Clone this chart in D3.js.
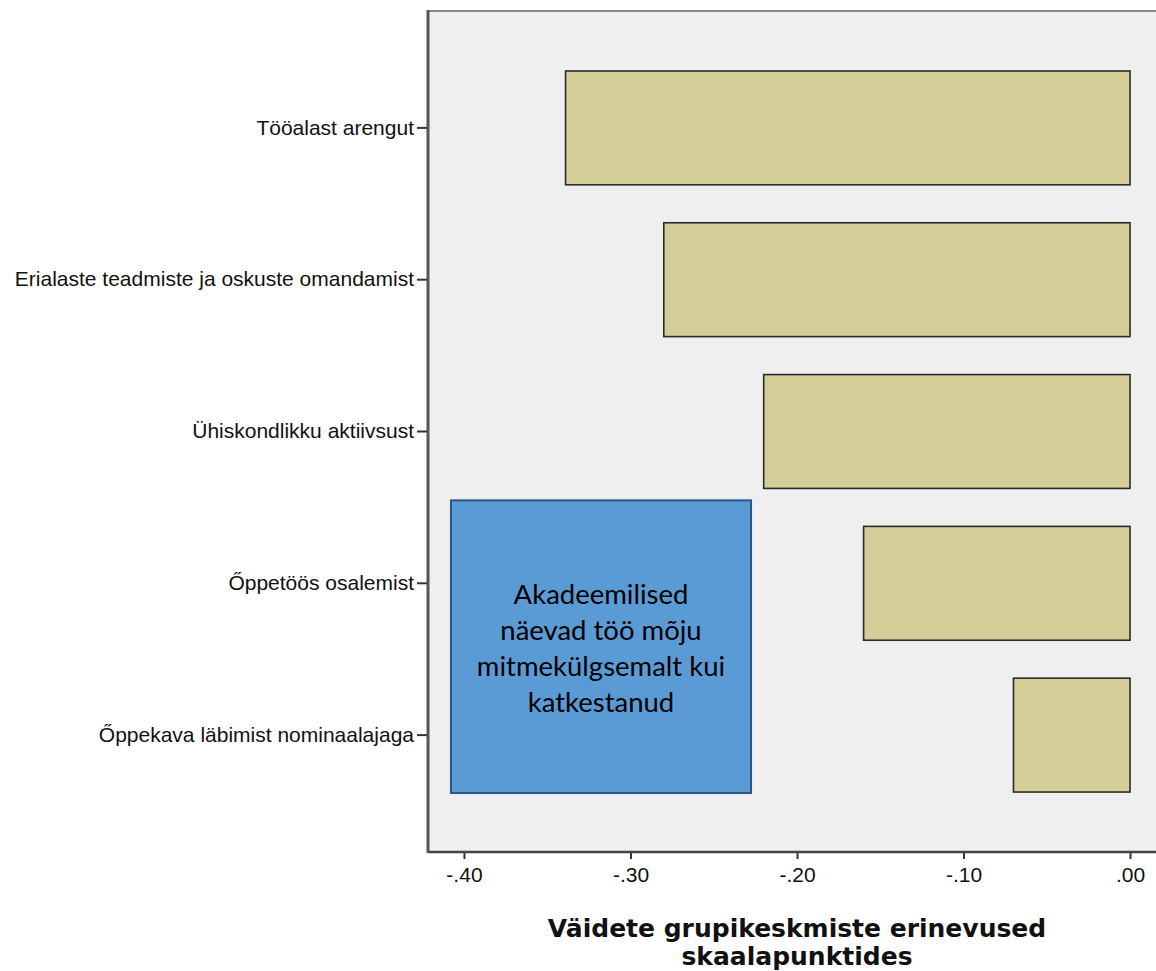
<!DOCTYPE html>
<html>
<head>
<meta charset="utf-8">
<script src="https://cdn.jsdelivr.net/npm/d3@7"></script>
<style>
  html, body { margin: 0; padding: 0; background: #ffffff; }
  svg { display: block; }
</style>
</head>
<body>
<svg id="chart" width="1156" height="971"></svg>
<script>
// ---- data ----
const categories = [
  "Tööalast arengut",
  "Erialaste teadmiste ja oskuste omandamist",
  "Ühiskondlikku aktiivsust",
  "Őppetöös osalemist",
  "Őppekava läbimist nominaalajaga"
];
const values = [-0.339, -0.280, -0.220, -0.160, -0.070];
const tickValues = [-0.4, -0.3, -0.2, -0.1, 0];
const tickLabels = ["-.40", "-.30", "-.20", "-.10", ".00"];
const xDomain = [-0.4216, 0.0216];
const axisTitleLines = ["Väidete grupikeskmiste erinevused", "skaalapunktides"];
const noteLines = ["Akadeemilised", "näevad töö mõju", "mitmekülgsemalt kui", "katkestanud"];
const noteRange = [-0.4078, -0.2276]; // x extent of annotation box in data units

// ---- layout ----
const svg = d3.select("#chart");
const plot = { left: 428, right: 1166, top: 11, bottom: 852 };

const x = d3.scaleLinear().domain(xDomain).range([plot.left, plot.right]);
const y = d3.scaleBand().domain(categories)
  .range([plot.top, plot.bottom])
  .paddingInner(0.25).paddingOuter(0.395);

// plot background
svg.append("rect")
  .attr("x", plot.left).attr("y", plot.top)
  .attr("width", plot.right - plot.left).attr("height", plot.bottom - plot.top)
  .attr("fill", "#efefef");

// bars
svg.append("g").selectAll("rect").data(categories).join("rect")
  .attr("x", (d, i) => x(values[i]))
  .attr("y", d => y(d))
  .attr("width", (d, i) => x(0) - x(values[i]))
  .attr("height", y.bandwidth())
  .attr("fill", "#d3ce97")
  .attr("stroke", "#2b2b2b")
  .attr("stroke-width", 1.6);

// annotation box
const nTop = y(categories[3]) - 26;
const nBottom = y(categories[4]) + y.bandwidth() + 1;
svg.append("rect")
  .attr("x", x(noteRange[0])).attr("y", nTop)
  .attr("width", x(noteRange[1]) - x(noteRange[0]))
  .attr("height", nBottom - nTop)
  .attr("fill", "#5b9bd5")
  .attr("stroke", "#2c5683")
  .attr("stroke-width", 2);
const nCx = (x(noteRange[0]) + x(noteRange[1])) / 2;
const nCy = (nTop + nBottom) / 2;
svg.append("text")
  .attr("text-anchor", "middle")
  .attr("font-family", "Lato, 'Open Sans', sans-serif")
  .attr("font-size", 27.5)
  .attr("fill", "#000")
  .selectAll("tspan").data(noteLines).join("tspan")
  .attr("x", nCx)
  .attr("y", (d, i) => nCy + (i - (noteLines.length - 1) / 2) * 36 + 11)
  .text(d => d);

// x axis
const xAxis = d3.axisBottom(x).tickValues(tickValues)
  .tickFormat((d, i) => tickLabels[i]).tickSize(7).tickPadding(8);
const gx = svg.append("g").attr("transform", `translate(0,${plot.bottom})`).call(xAxis);
gx.select(".domain").remove();
gx.selectAll(".tick line").attr("stroke", "#333").attr("stroke-width", 2);
gx.selectAll(".tick text")
  .attr("font-family", "'Liberation Sans', Arial, sans-serif")
  .attr("font-size", 21).attr("fill", "#111");

// y axis
const yAxis = d3.axisLeft(y).tickSize(11).tickPadding(3);
const gy = svg.append("g").attr("transform", `translate(${plot.left},0)`).call(yAxis);
gy.select(".domain").remove();
gy.selectAll(".tick line").attr("stroke", "#333").attr("stroke-width", 2);
gy.selectAll(".tick text")
  .attr("font-family", "'Liberation Sans', Arial, sans-serif")
  .attr("font-size", 21).attr("fill", "#111");

// frame lines
svg.append("line")
  .attr("x1", plot.left).attr("x2", plot.right)
  .attr("y1", plot.top).attr("y2", plot.top)
  .attr("stroke", "#8a8a8a").attr("stroke-width", 2);
svg.append("line")
  .attr("x1", plot.left).attr("x2", plot.right)
  .attr("y1", plot.bottom).attr("y2", plot.bottom)
  .attr("stroke", "#444").attr("stroke-width", 2.5);
svg.append("line")
  .attr("x1", plot.left).attr("x2", plot.left)
  .attr("y1", plot.top - 1).attr("y2", plot.bottom + 1)
  .attr("stroke", "#555").attr("stroke-width", 3);

// axis title
svg.append("text")
  .attr("text-anchor", "middle")
  .attr("font-family", "'DejaVu Sans', Verdana, sans-serif")
  .attr("font-weight", "bold")
  .attr("font-size", 25)
  .attr("fill", "#111")
  .selectAll("tspan").data(axisTitleLines).join("tspan")
  .attr("x", (plot.left + plot.right) / 2)
  .attr("y", (d, i) => 937 + i * 28)
  .text(d => d);
</script>
</body>
</html>
